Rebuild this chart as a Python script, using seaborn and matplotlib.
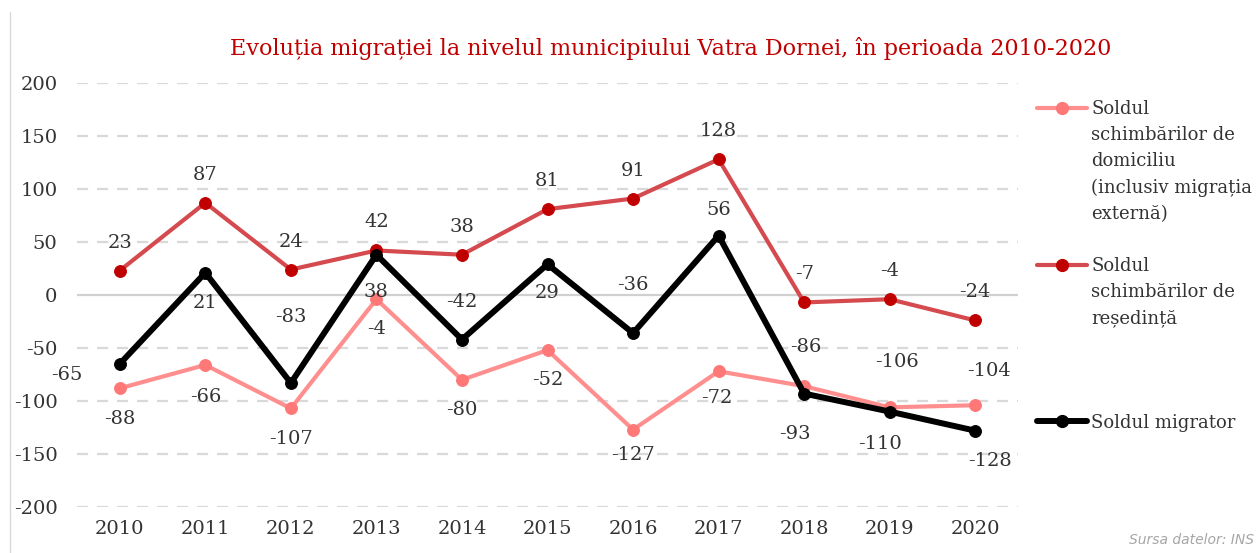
import numpy as np
import pandas as pd
import matplotlib.pyplot as plt
import seaborn as sns
from matplotlib.lines import Line2D

# -----------------------------
# Data
# -----------------------------
years = [2010, 2011, 2012, 2013, 2014, 2015, 2016, 2017, 2018, 2019, 2020]
domiciliu = [-88, -66, -107, -4, -80, -52, -127, -72, -86, -106, -104]
resedinta = [23, 87, 24, 42, 38, 81, 91, 128, -7, -4, -24]
migrator = [-65, 21, -83, 38, -42, 29, -36, 56, -93, -110, -128]

label_dom = "Soldul schimbărilor de domiciliu (inclusiv migrația externă)"
label_res = "Soldul schimbărilor de reședință"
label_mig = "Soldul migrator"

# data label offsets in pixels (dx, dy)
off_dom = [(0, -31), (0, -32), (0, -31), (0, -30), (0, -30), (0, -30),
           (0, -25), (-2, -27), (2, 39), (7, 45), (14, 34)]
off_res = [(0, 28)] * 11
off_mig = [(-53, -11), (0, -30), (0, 66), (0, -37), (0, 38), (0, -29),
           (0, 48), (0, 26), (-9, -40), (-10, -32), (15, -30)]

# -----------------------------
# Plot
# -----------------------------
sns.set_theme(style="white")
plt.rcParams["font.family"] = ["DejaVu Serif"]
plt.rcParams["axes.unicode_minus"] = False

txt_color = "#333333"
fs = 14

fig = plt.figure(figsize=(12.57, 5.53), dpi=100)
ax = fig.add_axes([77 / 1257, 1 - 507 / 553, (1018 - 77) / 1257, (507 - 83) / 553])

series = [
    (domiciliu, off_dom, "#ff8f8f", "#ff7878", 3.0, label_dom),
    (resedinta, off_res, "#d44a4e", "#c00000", 3.0, label_res),
    (migrator, off_mig, "#000000", "#000000", 4.3, label_mig),
]

for vals, offs, lc, mc, lw, lab in series:
    sns.lineplot(x=years, y=vals, ax=ax, color=lc, linewidth=lw, marker="o",
                 markersize=8.5, markerfacecolor=mc, markeredgecolor=mc,
                 label=lab, zorder=3)
    for x, y, (dx, dy) in zip(years, vals, offs):
        ax.annotate(str(y), (x, y), xytext=(dx, dy), textcoords="offset pixels",
                    ha="center", va="center", fontsize=fs, color=txt_color, zorder=4)

ax.set_xlim(2009.5, 2020.5)
ax.set_ylim(-200, 200)
ax.set_xticks(years)
ax.set_yticks(np.arange(-200, 201, 50))
ax.tick_params(axis="both", length=0, labelsize=fs, colors=txt_color)
ax.tick_params(axis="y", pad=14)
ax.tick_params(axis="x", pad=9)
for s in ax.spines.values():
    s.set_visible(False)
for yv in np.arange(-200, 201, 50):
    if yv == 0:
        ax.axhline(yv, color="#d0d0d0", linewidth=1.6, zorder=1)
    else:
        ax.axhline(yv, color="#d9d9d9", linewidth=1.6, linestyle=(0, (5, 4)), zorder=1)
ax.set_xlabel("")
ax.set_ylabel("")

# legend: one row per text line, handle on the first line of each entry
blank = Line2D([], [], linestyle="none")
h_dom = Line2D([], [], color="#ff8f8f", lw=3.0, marker="o", markersize=8.5,
               markerfacecolor="#ff7878", markeredgecolor="#ff7878")
h_res = Line2D([], [], color="#d44a4e", lw=3.0, marker="o", markersize=8.5,
               markerfacecolor="#c00000", markeredgecolor="#c00000")
h_mig = Line2D([], [], color="#000000", lw=4.3, marker="o", markersize=8.5)
handles = [h_dom, blank, blank, blank, blank, blank,
           h_res, blank, blank, blank, blank, blank, h_mig]
labels = ["Soldul", "schimbărilor de", "domiciliu", "(inclusiv migrația", "externă)", " ",
          "Soldul", "schimbărilor de", "reședință", " ", " ", " ", "Soldul migrator"]
leg = ax.legend(handles, labels, loc="upper left",
                bbox_to_anchor=(1037 / 1257, 1 - 100 / 553), bbox_transform=fig.transFigure,
                frameon=False, fontsize=13, handlelength=2.75, handletextpad=0.25,
                labelspacing=0.45, borderpad=0, borderaxespad=0)
for t in leg.get_texts():
    t.set_color(txt_color)

fig.text(671 / 1257, 1 - 48 / 553,
         "Evoluția migrației la nivelul municipiului Vatra Dornei, în perioada 2010-2020",
         ha="center", va="center", fontsize=16, color="#c00000")
fig.text(1254 / 1257, 1 - 540 / 553, "Sursa datelor: INS", ha="right", va="center",
         fontsize=10, color="#a6a6a6", style="italic", family="DejaVu Sans")
fig.add_artist(Line2D([10 / 1257, 10 / 1257], [0, 1 - 12 / 553], color="#d9d9d9", lw=1))

fig.savefig("out.png", dpi=100)
